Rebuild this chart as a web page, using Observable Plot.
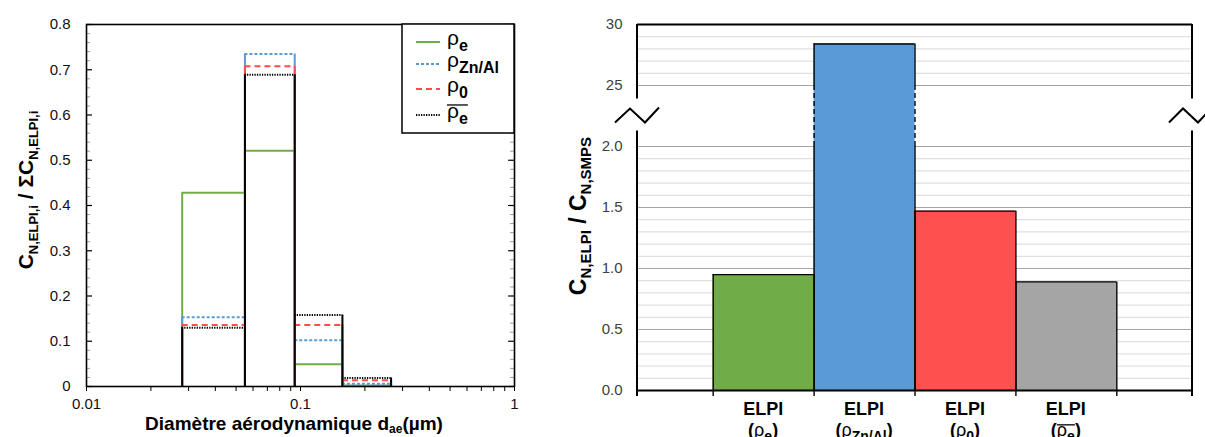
<!DOCTYPE html>
<html>
<head>
<meta charset="utf-8">
<script src="https://cdn.jsdelivr.net/npm/d3@7"></script>
<script src="https://cdn.jsdelivr.net/npm/@observablehq/plot@0.6"></script>
<style>
  body { margin: 0; background: #fff; }
  #wrap { position: relative; width: 1205px; height: 437px; overflow: hidden; background: #fff; }
  #left { position: absolute; left: 0; top: 0; width: 540px; height: 437px; }
  #right { position: absolute; left: 540px; top: 0; width: 665px; height: 437px; }
  svg { overflow: visible; }
</style>
</head>
<body>
<div id="wrap"><div id="left"></div><div id="right"></div></div>
<script>
// ---------------- DATA: left panel (ELPI stage distributions) ----------------
const binEdges = [0.028, 0.055, 0.094, 0.157, 0.265];   // µm, stage boundaries
const rhoE     = [0.428, 0.521, 0.049, 0.002];
const rhoZnAl  = [0.153, 0.735, 0.102, 0.006];
const rho0     = [0.136, 0.708, 0.136, 0.014];
const rhoEbar  = [0.130, 0.689, 0.158, 0.019];
const yTicksLeft = [0, 0.1, 0.2, 0.3, 0.4, 0.5, 0.6, 0.7, 0.8];
const yTickLabelsLeft = ["0", "0.1", "0.2", "0.3", "0.4", "0.5", "0.6", "0.7", "0.8"];
const xTicksLeft = [0.01, 0.1, 1];
const xTickLabelsLeft = ["0.01", "0.1", "1"];
const legendSubs = ["e", "Zn/Al", "0", "e"];

// ---------------- DATA: right panel (ratio ELPI / SMPS) ----------------
const barLabelTop  = ["ELPI", "ELPI", "ELPI", "ELPI"];
const barLabelSub  = ["e", "Zn/Al", "0", "e"];
const barLabelOver = [false, false, false, true];
const barValues    = [0.95, 28.4, 1.47, 0.89];
const barColors    = ["#70ad47", "#5b9bd5", "#ff5050", "#a5a5a5"];
const yTicksRight      = [0, 0.5, 1, 1.5, 2, 25, 30];
const yTickLabelsRight = ["0.0", "0.5", "1.0", "1.5", "2.0", "25", "30"];
const axisBreak = [2, 25];

const FONT = "'Liberation Sans', Arial, Helvetica, sans-serif";

// rich text helper (subscripts / overline) appended into an svg selection
function richText(parent, x, y, parts, opt = {}) {
  const size = opt.size || 18, sub = opt.subSize || 12, shiftAmt = opt.shift || 5;
  const fill = opt.fill || "#000";
  const tr = `translate(${x},${y}) rotate(${opt.rotate || 0})`;
  const t = parent.append("text")
    .attr("text-anchor", opt.anchor || "middle")
    .attr("font-weight", opt.weight || "bold")
    .attr("font-family", FONT)
    .attr("font-size", size)
    .attr("fill", fill)
    .attr("transform", tr);
  let cur = 0, idx = 0;
  const overs = [];
  for (const p of parts) {
    const target = p.sub ? shiftAmt : 0;
    const ts = t.append("tspan").text(p.t)
      .attr("font-size", p.size || (p.sub ? sub : size));
    if (p.weight) ts.attr("font-weight", p.weight);
    if (target !== cur) ts.attr("dy", target - cur);
    cur = target;
    if (p.over) overs.push([idx, p.t.length]);
    idx += p.t.length;
  }
  if (overs.length) {
    const node = t.node();
    const s = overs[0][0], last = overs[overs.length - 1], e = last[0] + last[1] - 1;
    const x1 = node.getStartPositionOfChar(s).x, x2 = node.getEndPositionOfChar(e).x;
    const oy = -0.62 * size;
    parent.append("line").attr("transform", tr)
      .attr("x1", x1).attr("x2", x2).attr("y1", oy).attr("y2", oy)
      .attr("stroke", fill).attr("stroke-width", 1.3);
  }
  return t;
}

// ================= LEFT PANEL =================
const LW = 540, LH = 437, LML = 86, LMR = 26, LMT = 24, LMB = 51;
const plotWL = LW - LML - LMR;
const seriesDefs = [
  {values: rhoE,    color: "#70ad47", dash: null,      w: 2},
  {values: rhoZnAl, color: "#5b9bd5", dash: "3,2",     w: 2},
  {values: rho0,    color: "#ff4b4b", dash: "6,4",     w: 2},
  {values: rhoEbar, color: "#000000", dash: "1.3,1.2", w: 2}
];
const yMinor = d3.range(0, 0.8001, 0.02).filter(v => Math.abs(v * 10 - Math.round(v * 10)) > 1e-6);
const xMinor = [2,3,4,5,6,7,8,9].map(k => k * 0.01).concat([2,3,4,5,6,7,8,9].map(k => k * 0.1));

const leftMarks = [
  Plot.tickY(yMinor, {y: d => d, stroke: "#9a9a9a", insetRight: plotWL - 4}),
  Plot.tickY(yMinor, {y: d => d, stroke: "#9a9a9a", insetLeft: plotWL - 4}),
  Plot.tickY(yTicksLeft, {y: d => d, stroke: "#000", strokeWidth: 1.2, insetRight: plotWL - 6}),
  Plot.tickY(yTicksLeft, {y: d => d, stroke: "#000", strokeWidth: 1.2, insetLeft: plotWL - 6})
];
for (const s of seriesDefs) {
  const tops = s.values.map((v, i) => ({x1: binEdges[i], x2: binEdges[i + 1], y: v}));
  const sides = binEdges.map((e, j) => ({x: e, y1: 0, y2: Math.max(s.values[j - 1] ?? 0, s.values[j] ?? 0)}));
  leftMarks.push(Plot.ruleX(sides, {x: "x", y1: "y1", y2: "y2", stroke: s.color, strokeWidth: s.w}));
  leftMarks.push(Plot.ruleY(tops, {y: "y", x1: "x1", x2: "x2", stroke: s.color, strokeWidth: s.w, strokeDasharray: s.dash}));
}
leftMarks.push(
  Plot.frame({stroke: "#000", strokeWidth: 1.6}),
  Plot.axisY({ticks: yTicksLeft, tickSize: 0, tickPadding: 16, tickFormat: d => yTickLabelsLeft[yTicksLeft.indexOf(d)], label: null, fontSize: 15, fill: "#111"}),
  Plot.axisX({ticks: xMinor.concat(xTicksLeft), tickSize: 5, tickFormat: () => "", label: null, stroke: "#000"}),
  Plot.text(xTicksLeft, {x: d => d, frameAnchor: "bottom", dy: 22, text: (d, i) => xTickLabelsLeft[i], fontSize: 15, fill: "#111"})
);

const leftFig = Plot.plot({
  width: LW, height: LH,
  marginLeft: LML, marginRight: LMR, marginTop: LMT, marginBottom: LMB,
  x: {type: "log", domain: [0.01, 1]},
  y: {domain: [0, 0.8]},
  style: {fontFamily: FONT, background: "white", overflow: "visible"},
  marks: leftMarks
});
document.getElementById("left").appendChild(leftFig);
{
  const svg = d3.select(leftFig);
  // y title
  richText(svg, 33, 190, [
    {t: "C"}, {t: "N,ELPI,i", sub: true}, {t: " / ΣC"}, {t: "N,ELPI,i", sub: true}
  ], {rotate: -90, size: 21, subSize: 13, shift: 5});
  // x title
  richText(svg, 294, 430, [
    {t: "Diamètre aérodynamique d"}, {t: "ae", sub: true}, {t: "(µm)"}
  ], {size: 19, subSize: 12, shift: 3});
  // legend
  const lx = 402, ly = 24, lw = 514 - 402, lh = 133 - 24;
  const g = svg.append("g");
  g.append("rect").attr("x", lx).attr("y", ly).attr("width", lw).attr("height", lh)
    .attr("fill", "white").attr("stroke", "#000").attr("stroke-width", 1.5);
  const rowY = [42, 64, 89, 115];
  seriesDefs.forEach((s, i) => {
    g.append("line").attr("x1", 416).attr("x2", 440).attr("y1", rowY[i]).attr("y2", rowY[i])
      .attr("stroke", s.color).attr("stroke-width", 2).attr("stroke-dasharray", s.dash);
    const parts = i === 3
      ? [{t: "ρ", weight: "normal", over: true}, {t: legendSubs[i], sub: true, over: true}]
      : [{t: "ρ", weight: "normal"}, {t: legendSubs[i], sub: true}];
    richText(g, 447, rowY[i] + 3, parts, {anchor: "start", size: 21, subSize: 16, shift: 6});
  });
}

// ================= RIGHT PANEL =================
const RW = 665, RH = 437, RML = 97, RMR = 13, RMT = 24, RMB = 47;
const barData = barValues.map((v, i) => ({i, x1: i, x2: i + 1, value: v, color: barColors[i]}));
const minorLow = d3.range(1, 20).map(k => k / 10).filter(v => Math.abs(v * 2 - Math.round(v * 2)) > 1e-6);
const minorHigh = [26, 27, 28, 29];
const majorGrid = [0.5, 1, 1.5, 2, 25];

// sides of each bar, split (dashed) where the axis is broken
const sideSolid = [], sideDashed = [];
for (const d of barData) {
  for (const x of [d.x1, d.x2]) {
    if (d.value <= axisBreak[0]) sideSolid.push({x, y1: 0, y2: d.value});
    else {
      sideSolid.push({x, y1: 0, y2: axisBreak[0]});
      sideDashed.push({x, y1: axisBreak[0], y2: Math.min(d.value, axisBreak[1])});
      if (d.value > axisBreak[1]) sideSolid.push({x, y1: axisBreak[1], y2: d.value});
    }
  }
}

const rightFig = Plot.plot({
  width: RW, height: RH,
  marginLeft: RML, marginRight: RMR, marginTop: RMT, marginBottom: RMB,
  x: {type: "linear", domain: [-0.75, barValues.length + 0.75]},
  y: {type: "linear", domain: [0, axisBreak[0], axisBreak[1], 30], range: [RH - RMB, 146, 85, RMT]},
  color: {type: "identity"},
  style: {fontFamily: FONT, background: "white", overflow: "visible"},
  marks: [
    Plot.ruleY(minorLow.concat(minorHigh), {y: d => d, stroke: "#d9d9d9", strokeWidth: 1}),
    Plot.ruleY(majorGrid, {y: d => d, stroke: "#a6a6a6", strokeWidth: 1}),
    Plot.rect(barData, {x1: "x1", x2: "x2", y1: () => 0, y2: "value", fill: "color"}),
    Plot.ruleY(barData, {y: "value", x1: "x1", x2: "x2", stroke: "#000", strokeWidth: 1.4}),
    Plot.ruleX(sideSolid, {x: "x", y1: "y1", y2: "y2", stroke: "#000", strokeWidth: 1.4}),
    Plot.ruleX(sideDashed, {x: "x", y1: "y1", y2: "y2", stroke: "#000", strokeWidth: 1.4, strokeDasharray: "5,3"}),
    Plot.ruleY([0], {stroke: "#000", strokeWidth: 2}),
    Plot.ruleY([30], {stroke: "#000", strokeWidth: 2}),
    Plot.axisX({ticks: d3.range(0, barValues.length + 1), tickSize: 6, tickFormat: () => "", label: null, strokeWidth: 1.4}),
    Plot.axisY({ticks: yTicksRight, tickSize: 0, tickPadding: 15, tickFormat: d => yTickLabelsRight[yTicksRight.indexOf(d)], label: null, fontSize: 15, fill: "#404040"})
  ]
});
document.getElementById("right").appendChild(rightFig);
{
  const svg = d3.select(rightFig);
  const xs = rightFig.scale("x"), ys = rightFig.scale("y");
  const xL = xs.apply(-0.75), xR = xs.apply(barValues.length + 0.75);
  const y0 = ys.apply(0), yTop = ys.apply(30);
  const mid = (ys.apply(axisBreak[0]) + ys.apply(axisBreak[1])) / 2;
  const g = svg.append("g").attr("stroke", "#000").attr("stroke-width", 2).attr("fill", "none");
  for (const xa of [xL, xR]) {
    g.append("line").attr("x1", xa).attr("x2", xa).attr("y1", y0 + 6).attr("y2", mid + 15);
    g.append("line").attr("x1", xa).attr("x2", xa).attr("y1", mid - 17).attr("y2", yTop);
  }
  g.append("path").attr("d", `M${xL - 22},${mid + 7}L${xL - 7},${mid - 7}L${xL + 8},${mid + 7}L${xL + 22},${mid - 8}`);
  g.append("path").attr("d", `M${xR - 23},${mid + 7}L${xR - 9},${mid - 7}L${xR + 6},${mid + 7}L${xR + 20},${mid - 8}`);

  // category labels
  barData.forEach((d, i) => {
    const cx = xs.apply(i + 0.5);
    richText(svg, cx, 415, [{t: barLabelTop[i]}], {size: 18});
    const parts = barLabelOver[i]
      ? [{t: "("}, {t: "ρ", weight: "normal", over: true}, {t: barLabelSub[i], sub: true, over: true}, {t: ")"}]
      : [{t: "("}, {t: "ρ", weight: "normal"}, {t: barLabelSub[i], sub: true}, {t: ")"}];
    richText(svg, cx, 436, parts, {size: 18, subSize: 14, shift: 5});
  });
  // y title
  richText(svg, 46, 216, [
    {t: "C"}, {t: "N,ELPI", sub: true}, {t: " / C"}, {t: "N,SMPS", sub: true}
  ], {rotate: -90, size: 23, subSize: 15, shift: 5});
}
</script>
</body>
</html>
